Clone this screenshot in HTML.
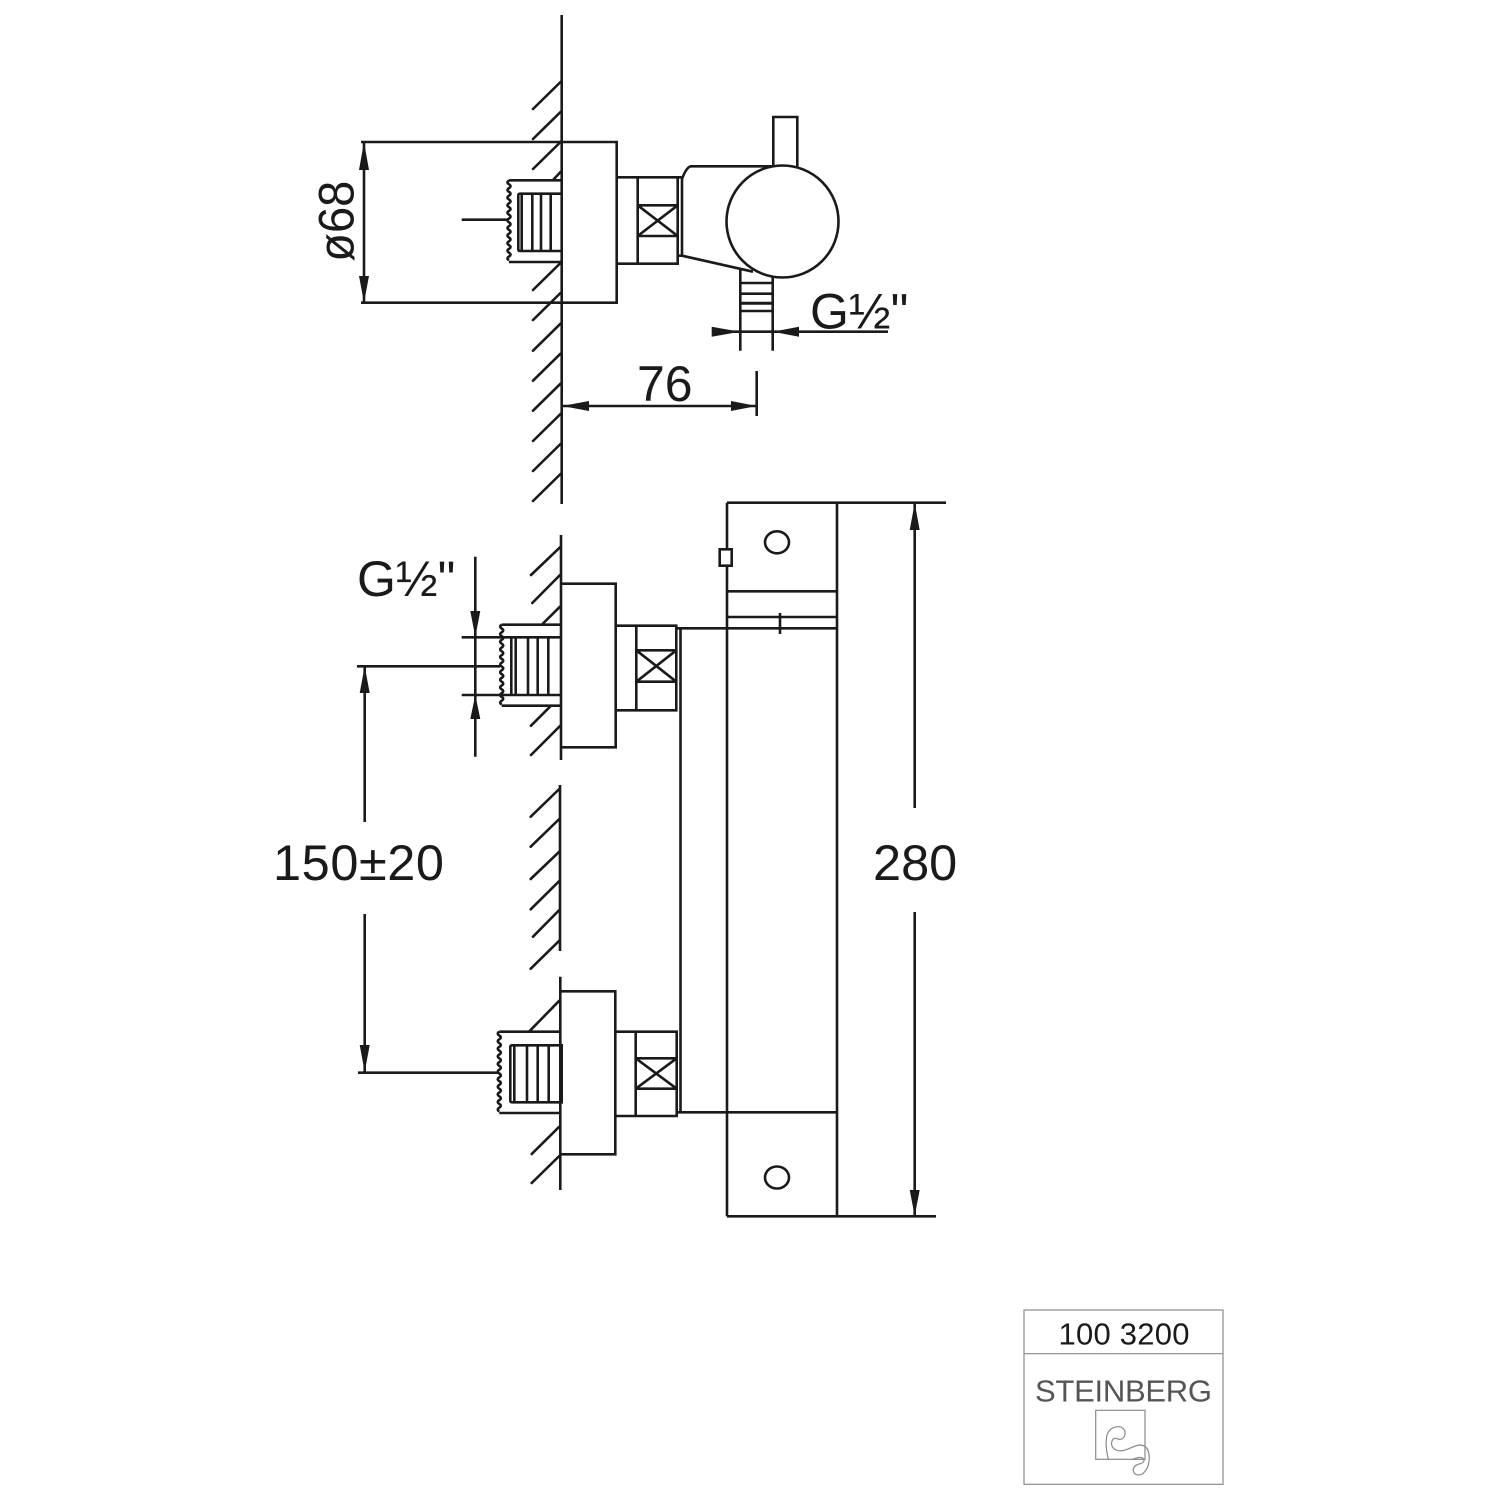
<!DOCTYPE html>
<html>
<head>
<meta charset="utf-8">
<style>
html,body{margin:0;padding:0;background:#fff;width:1500px;height:1500px;overflow:hidden}
svg{display:block}
text{font-family:"Liberation Sans",sans-serif;fill:#1a1a1a}
.l{fill:none;stroke:#1a1a1a;stroke-width:2.6}
.h{fill:none;stroke:#1a1a1a;stroke-width:2.6;stroke-linecap:round}
.a{fill:#1a1a1a;stroke:none}
.g{fill:none;stroke:#8a8a8a;stroke-width:1.2}
</style>
</head>
<body>
<svg width="1500" height="1500" viewBox="0 0 1500 1500" xmlns="http://www.w3.org/2000/svg">
<rect width="1500" height="1500" fill="#fff"/>

<!-- TOP VIEW -->
<path class="l" d="M561.7 15V504"/>
<path class="h" d="M533 109L560.5 82M533 139L560.5 112M533 169L560.5 142M553 180L560.5 172M533 290L560.5 263M533 320L560.5 293M533 350.7L560.5 323.7M533 380.7L560.5 353.7M533 410.7L560.5 383.7M533 441L560.5 414M533 471L560.5 444M533 501L560.5 474"/>
<path class="l" d="M361 142H616.7V302.7H361"/>
<path class="l" d="M561 180.3H509M509 262H561"/>
<path class="l" d="M509 180.5q-3 1.9 0 3.8t0 3.8t0 3.8t0 3.8t0 3.8t0 3.8t0 3.8t0 3.8t0 3.8t0 3.8t0 3.8t0 3.8t0 3.8t0 3.8t0 3.8t0 3.8t0 3.8t0 3.8t0 3.8t0 3.8t0 3.8"/>
<path class="l" d="M561 193.7H520Q518.3 193.7 518.3 195.5V249Q518.3 251 520 251H561M521.7 193.7V251M532.3 193.7V251M541 193.7V251M550.7 193.7V251"/>
<path class="l" d="M461.7 219.7H508"/>
<path class="l" d="M617 177.3H677.7V263.7H617M637.7 177.3V263.7M637.7 205.3H677.7M637.7 236H677.7M637.7 205.3L677.7 236M637.7 236L677.7 205.3"/>
<path class="l" d="M677.7 177.3H682V255.7H677.7"/>
<path class="l" d="M682 179Q686 168 690.5 166.3H775M682 255.7L753 271.7"/>
<path class="l" d="M773.3 166V117H797.3V170"/>
<circle class="l" cx="782.5" cy="221.5" r="56" style="fill:#fff"/>
<path class="l" d="M740.3 268V350.7M772.7 276V350.7M740.3 283H772.7M740.3 293.7H772.7M740.3 311H772.7"/>
<path class="l" d="M740.3 303.3H772.7" style="stroke-width:3"/>
<path class="l" d="M712 331.7H888"/>
<polygon class="a" points="711.7,326.7 711.7,336.7 740,331.7"/>
<polygon class="a" points="799,326.7 799,336.7 772.7,331.7"/>
<path class="l" d="M756.7 371V416M562 406H756.7"/>
<polygon class="a" points="562,406 589,401 589,411"/>
<polygon class="a" points="756.7,406 731,401 731,411"/>
<path class="l" d="M364 142V302.7"/>
<polygon class="a" points="364,142 359,170 369,170"/>
<polygon class="a" points="364,302.7 359,276 369,276"/>
<text x="0" y="0" font-size="50" textLength="81" lengthAdjust="spacingAndGlyphs" transform="translate(353.5 261.7) rotate(-90)">ø68</text>
<text x="810" y="328.5" font-size="50">G½"</text>
<text x="637" y="401" font-size="50">76</text>

<!-- MIDDLE WALL -->
<path class="l" d="M560 785V951"/>
<path class="h" d="M530.7 816.7L559.3 789M530.7 846.7L559.3 819M530.7 879L559.3 851.7M530.7 909.3L559.3 881M533 936.7L559.3 910M530.7 968.7L559.3 940.7"/>

<!-- UPPER INLET -->
<path class="l" d="M561 535V760"/>
<path class="h" d="M531 575L560 547.3M532.3 603L560 575M543 623.5L560 606.7M531 725.7L550 706.7M531 755L560 726"/>
<path class="l" d="M561 583.7H615.7V747.3H561"/>
<path class="l" d="M561 624.7H501.7M501.7 705.7H561"/>
<path class="l" d="M501.7 624.7q-3 1.9 0 3.8t0 3.8t0 3.8t0 3.8t0 3.8t0 3.8t0 3.8t0 3.8t0 3.8t0 3.8t0 3.8t0 3.8t0 3.8t0 3.8t0 3.8t0 3.8t0 3.8t0 3.8t0 3.8t0 3.8t0 3.8"/>
<path class="l" d="M461.7 637.3H561M461.7 695H561M511.3 637.3V695M515.7 637.3V695M528 637.3V695M537.7 637.3V695M548.3 637.3V695"/>
<path class="l" d="M357 666.3H500"/>
<path class="l" d="M475.3 556.7V756.7"/>
<polygon class="a" points="475.3,637 470.3,611 480.3,611"/>
<polygon class="a" points="475.3,695 470.3,719 480.3,719"/>
<path class="l" d="M616 625.7H676.3V710.3H616M636.3 625.7V710.3M636.3 650.3H676.3M636.3 681.7H676.3M636.3 650.3L676.3 681.7M636.3 681.7L676.3 650.3"/>
<path class="l" d="M677 628.3H727M680.5 628.3V1112.3"/>
<path class="l" d="M364.7 666.3V822M364.7 914V1072"/>
<polygon class="a" points="364.7,666.3 359.7,693 369.7,693"/>
<polygon class="a" points="364.7,1072 359.7,1045 369.7,1045"/>
<text x="357" y="596" font-size="50">G½"</text>
<text x="273" y="880" font-size="50.5" textLength="171">150±20</text>

<!-- LOWER INLET -->
<path class="l" d="M560.3 976.7V1190"/>
<path class="h" d="M529 1031.7L559.3 1000.7M531.7 1154L559.3 1126.7M531.7 1183L559.3 1156"/>
<path class="l" d="M560.3 991.3H615.3V1154.3H560.3"/>
<path class="l" d="M560.3 1031.7H499.3M499.3 1113H560.3"/>
<path class="l" d="M499.3 1031.7q-3 1.9 0 3.8t0 3.8t0 3.8t0 3.8t0 3.8t0 3.8t0 3.8t0 3.8t0 3.8t0 3.8t0 3.8t0 3.8t0 3.8t0 3.8t0 3.8t0 3.8t0 3.8t0 3.8t0 3.8t0 3.8t0 3.8"/>
<path class="l" d="M561.7 1045.3H512Q510.3 1045.3 510.3 1047V1100.5Q510.3 1102.3 512 1102.3H561.7ZM514.3 1045.3V1102.3M527 1045.3V1102.3M537.7 1045.3V1102.3M548.7 1045.3V1102.3"/>
<path class="l" d="M358 1072.7H499"/>
<path class="l" d="M615.3 1031.7H676.7V1116H615.3M635.7 1031.7V1116M635.7 1058.3H676.7M635.7 1088.7H676.7M635.7 1058.3L676.7 1088.7M635.7 1088.7L676.7 1058.3"/>
<path class="l" d="M677 1112.3H837"/>

<!-- MAIN BODY -->
<path class="l" d="M727 502.7V1216.3M837 502.7V1216.3M727 502.7H946M727 1216.3H936M727 591.3H837M727 617H837M727 628.3H837M780 613V634"/>
<ellipse class="l" cx="777" cy="542.3" rx="12" ry="11"/>
<ellipse class="l" cx="777" cy="1177.5" rx="12" ry="11"/>
<rect x="719.7" y="549.3" width="12" height="16.4" fill="#fff" stroke="#1a1a1a" stroke-width="2.6"/>
<path class="l" d="M914.7 503V808M914.7 912V1216"/>
<polygon class="a" points="914.7,503 909.7,530 919.7,530"/>
<polygon class="a" points="914.7,1216 909.7,1190 919.7,1190"/>
<text x="873" y="880" font-size="50.5">280</text>

<!-- TITLE BLOCK -->
<rect class="g" x="1024" y="1310" width="199" height="174.3"/>
<path class="g" d="M1024 1353.7H1223"/>
<text x="1124" y="1344.5" font-size="31" text-anchor="middle" textLength="131">100 3200</text>
<text x="1035" y="1401.5" font-size="31" textLength="177" style="fill:#555">STEINBERG</text>
<rect class="g" x="1095.7" y="1410.3" width="49.3" height="49" stroke-width="1"/>
<path class="g" d="M1108.3 1459.3C1106 1450 1105.5 1443 1106.8 1436C1108 1431 1112 1426.7 1118.3 1426.7C1123 1426.7 1125.5 1430 1125 1434C1124.5 1439 1120 1440.5 1116.7 1438.5C1113 1437.5 1111 1441 1111.7 1445C1113 1450 1118 1451.5 1123.3 1450.5C1130 1449 1135 1445 1140 1445C1146 1445.3 1148.5 1449 1149 1455C1150 1462 1148 1469 1143 1473.5C1139 1476 1134 1475.5 1133.3 1470.7C1133 1466.5 1136 1464.5 1141 1463.5C1145 1462 1145 1458.5 1141 1457.5C1138 1457 1135 1458.5 1132.7 1459.3"/>
</svg>
</body>
</html>
